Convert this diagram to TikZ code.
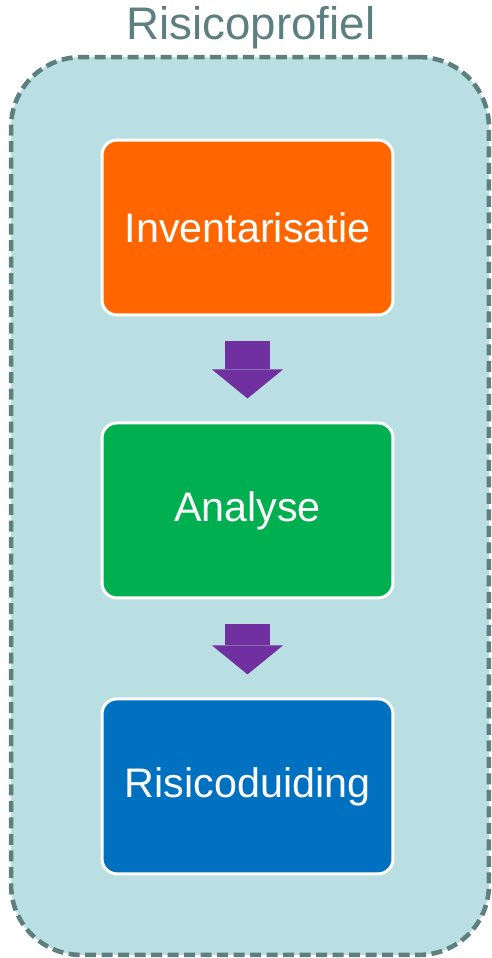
\documentclass[tikz,border=0pt]{standalone}
\usepackage{fontspec}
\setmainfont{Liberation Sans}
\usetikzlibrary{arrows.meta}
\usetikzlibrary{positioning}

\definecolor{kader}{HTML}{5E7F80}
\definecolor{achtergrond}{HTML}{BADFE2}
\definecolor{oranje}{HTML}{FF6600}
\definecolor{groen}{HTML}{00B050}
\definecolor{blauw}{HTML}{0070C0}
\definecolor{paars}{HTML}{7030A0}

\begin{document}
\begin{tikzpicture}[x=0.02cm,y=-0.02cm,
    stap/.style={draw=white, line width=1.7pt, rounded corners=0.3cm,
      minimum width=5.82cm, minimum height=3.5cm, text=white,
      font=\fontsize{23.5}{28}\selectfont},
    pijl/.style={paars, line width=0.9cm,
      -{Triangle[width=1.42cm,length=0.58cm,line width=0pt]},
      shorten <=0.5cm, shorten >=0.46cm}]
  \useasboundingbox (0,0) rectangle (491,958);
  % kader
  \node[draw=kader, fill=achtergrond, dash pattern=on 0.22cm off 0.11cm,
    line width=2.6pt, rounded corners=1.4cm, minimum width=9.56cm,
    minimum height=17.96cm, inner sep=0pt] (profiel) at (250,506) {};
  \node[text=kader, font=\fontsize{26}{30}\selectfont] (titel) at (251,28) {Risicoprofiel};
  % stappen
  \node[stap, fill=oranje] (inv) at (247.5,227.5) {Inventarisatie};
  \node[stap, fill=groen, below=2.1cm of inv] (ana) {Analyse};
  \node[stap, fill=blauw, below=1.96cm of ana] (duid) {Risicoduiding};
  \draw[pijl] (inv) -- (ana);
  \draw[pijl] (ana) -- (duid);
\end{tikzpicture}
\end{document}
